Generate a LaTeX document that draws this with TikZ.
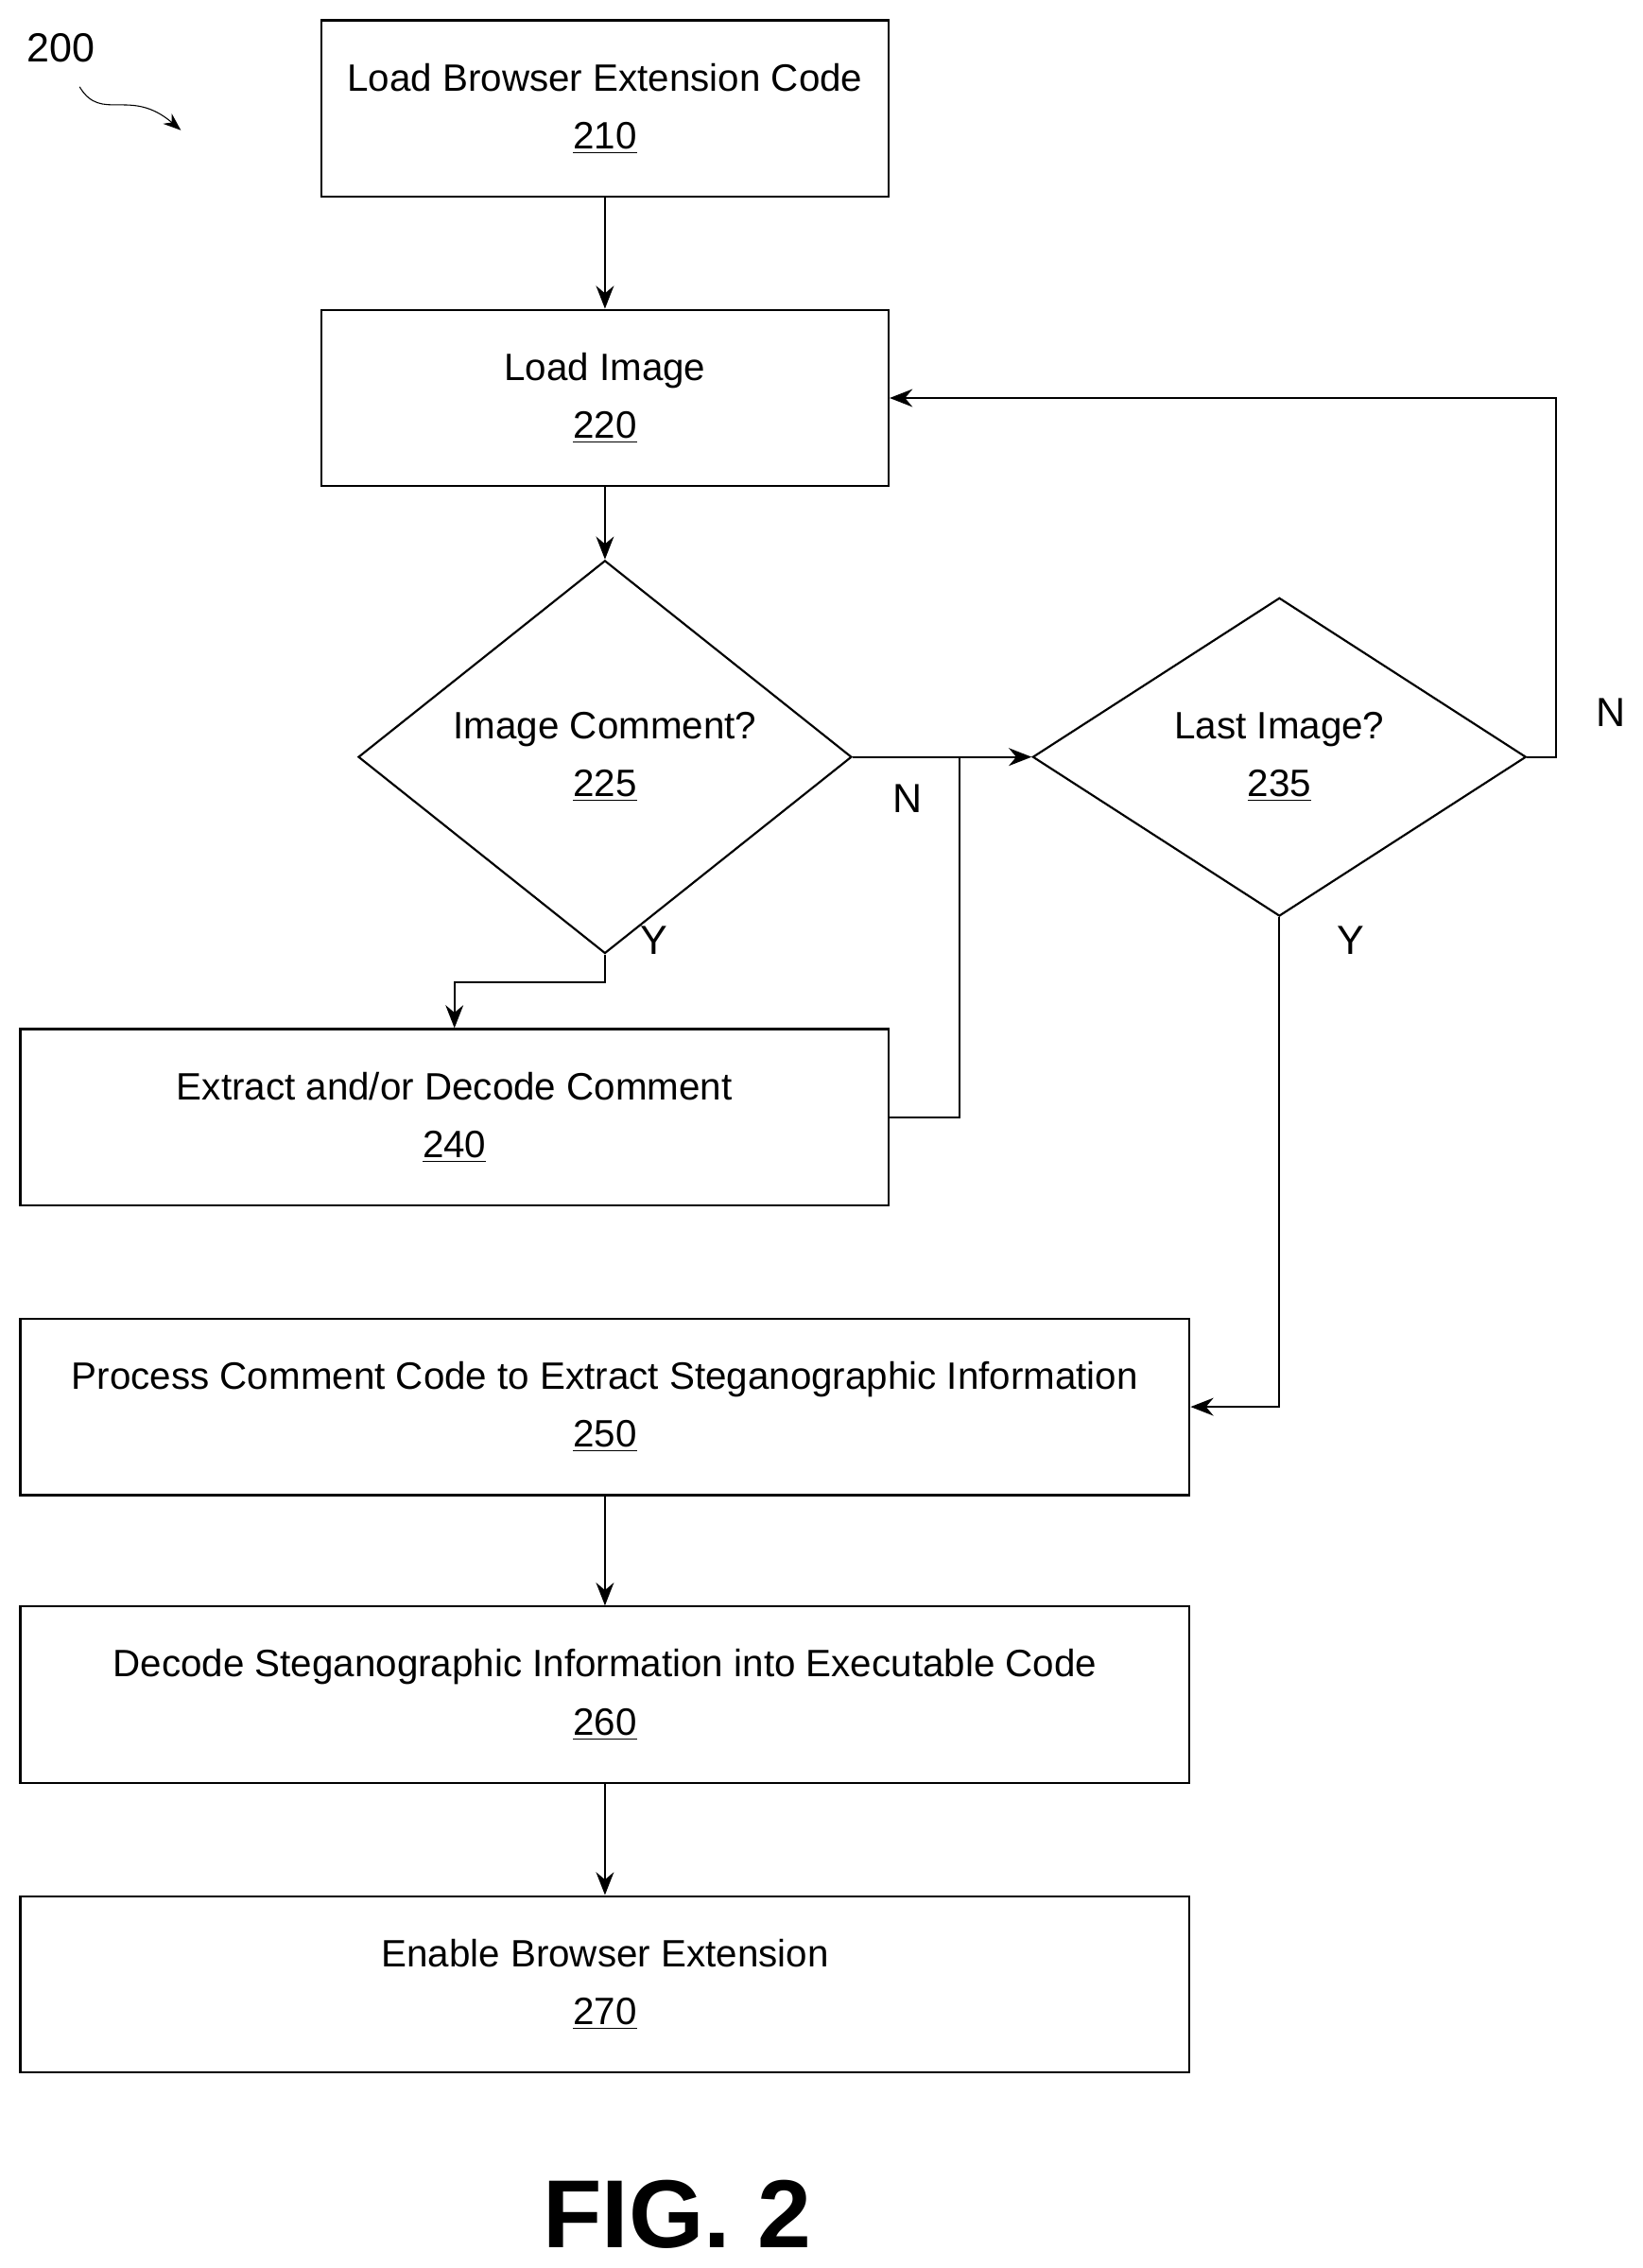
\documentclass[tikz,border=0pt]{standalone}
\usepackage{fontspec}
\setmainfont{Liberation Sans}
\usetikzlibrary{shapes.geometric,arrows.meta}
\begin{document}
\begin{tikzpicture}[
    x=0.02cm, y=-0.02cm,
    every node/.style={align=center, font=\fontsize{15}{22.7}\selectfont},
    box/.style={draw, thick, rectangle, minimum height=2.44cm},
    small/.style={box, minimum width=7.84cm},
    wide/.style={box, minimum width=16.16cm},
    test/.style={draw, thick, diamond, minimum width=6.82cm, minimum height=4.4cm, inner sep=0pt},
    flow/.style={thick, -{Stealth[length=9pt,width=7pt]}},
    tag/.style={font=\fontsize{16}{18}\selectfont}
]
    \useasboundingbox (0,0) rectangle (1135,1567);

    % boxes
    \node[small] (s210) at (418,75) {Load Browser Extension Code\\\underline{210}};
    \node[small] (s220) at (418,275) {Load Image\\\underline{220}};
    \node[test] (d225) at (418,523) {Image Comment?\\\underline{225}};
    \node[test] (d235) at (884,523) {Last Image?\\\underline{235}};
    \node[box, minimum width=12cm] (s240) at (314,772) {Extract and/or Decode Comment\\\underline{240}};
    \node[wide] (s250) at (418,972) {Process Comment Code to Extract Steganographic Information\\\underline{250}};
    \node[wide] (s260) at (418,1171) {Decode Steganographic Information into Executable Code\\\underline{260}};
    \node[wide] (s270) at (418,1371) {Enable Browser Extension\\\underline{270}};
    \coordinate (join) at (663,523);
    \coordinate (loop) at (1075,523);

    % connectors
    \draw[flow] (s210) -- (s220);
    \draw[flow] (s220) -- (d225);
    \draw[flow] (d225.east) -- (d235.west);
    \draw[flow] (d225.south) -- ++(0,19) -| (s240.north);
    \draw[thick] (s240.east) -| (join);
    \draw[flow] (d235.east) -- (loop) |- (s220.east);
    \draw[flow] (d235.south) |- (s250.east);
    \draw[flow] (s250) -- (s260);
    \draw[flow] (s260) -- (s270);

    % labels
    \node[tag] (n225) at (627,552) {N};
    \node[tag] (y225) at (452,650) {Y};
    \node[tag] (n235) at (1113,492) {N};
    \node[tag] (y235) at (933,650) {Y};
    \node[tag] (ref) at (42,33) {200};
    \coordinate (refa) at (55,60);
    \coordinate (refb) at (125,90);
    \draw[-{Stealth[length=7pt]}] (refa) .. controls (70,85) and (90,60) .. (refb);
    \node[font=\bfseries\fontsize{38}{40}\selectfont] (fig) at (468,1530) {FIG. 2};
\end{tikzpicture}
\end{document}
